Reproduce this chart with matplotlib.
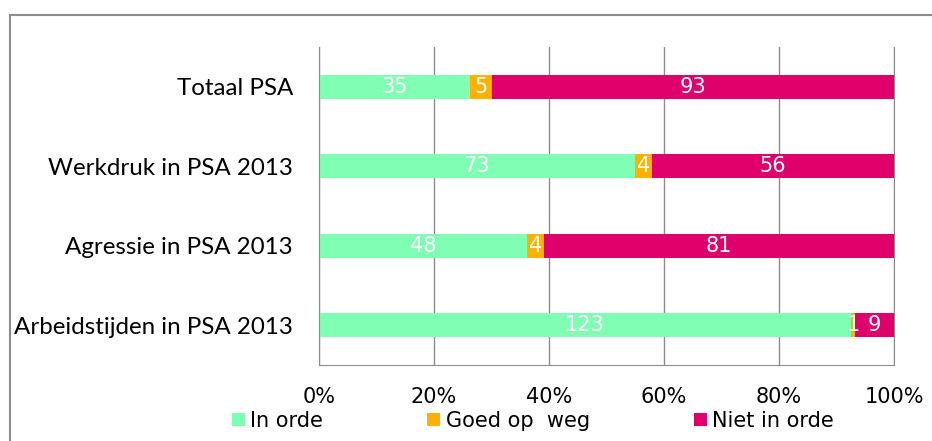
import matplotlib.pyplot as plt
from matplotlib.patches import Rectangle

categories = ["Totaal PSA", "Werkdruk in PSA 2013", "Agressie in PSA 2013", "Arbeidstijden in PSA 2013"]
in_orde = [35, 73, 48, 123]
goed_op_weg = [5, 4, 4, 1]
niet_in_orde = [93, 56, 81, 9]
series_names = ["In orde", "Goed op  weg", "Niet in orde"]
colors = ["#80FFB4", "#FFB000", "#E0006B"]
xticks = [0, 20, 40, 60, 80, 100]

plt.rcParams["font.family"] = ["DejaVu Sans"]

fig = plt.figure(figsize=(9.32, 4.41), dpi=100)
ax = fig.add_axes([319 / 932, 1 - 365 / 441, 575 / 932, 318 / 441])

# outer chart frame (runs off the right/bottom edge in the reference)
fig.add_artist(Rectangle((10 / 932, -0.1), 1.0, 1 - 15 / 441 + 0.1,
                         transform=fig.transFigure, fill=False,
                         edgecolor="#8c8c8c", linewidth=1.5))

ypos = list(range(len(categories)))
left = [0.0] * len(categories)
for name, values, color in zip(series_names, [in_orde, goed_op_weg, niet_in_orde], colors):
    pct = [v / (a + b + c) * 100 for v, a, b, c in zip(values, in_orde, goed_op_weg, niet_in_orde)]
    bars = ax.barh(ypos, pct, left=left, height=0.3, color=color, label=name, zorder=2)
    for bar, v in zip(bars, values):
        ax.text(bar.get_x() + bar.get_width() / 2, bar.get_y() + bar.get_height() / 2, str(v),
                ha="center", va="center", color="white", fontsize=15, zorder=3)
    left = [l + p for l, p in zip(left, pct)]

ax.set_xlim(0, 100)
ax.set_ylim(len(categories) - 0.5, -0.5)
ax.set_yticks(ypos)
ax.set_yticklabels(categories, fontfamily="Lato", fontsize=17.4)
ax.set_xticks(xticks)
ax.set_xticklabels([f"{t}%" for t in xticks], fontsize=15)
ax.tick_params(length=0)
ax.tick_params(axis="y", pad=18.7)
ax.tick_params(axis="x", pad=15.5)
ax.grid(axis="x", color="#8c8c8c", linewidth=1, zorder=0)
for side in ["left", "bottom", "right"]:
    ax.spines[side].set_color("#8c8c8c")
ax.spines["top"].set_visible(False)

fig.legend(loc="center", bbox_to_anchor=(533 / 932, 1 - 421 / 441), ncol=3, frameon=False,
           fontsize=15, handlelength=0.62, handleheight=0.62, handletextpad=0.25,
           columnspacing=5.0, borderpad=0)

fig.savefig("out.png", dpi=100)
